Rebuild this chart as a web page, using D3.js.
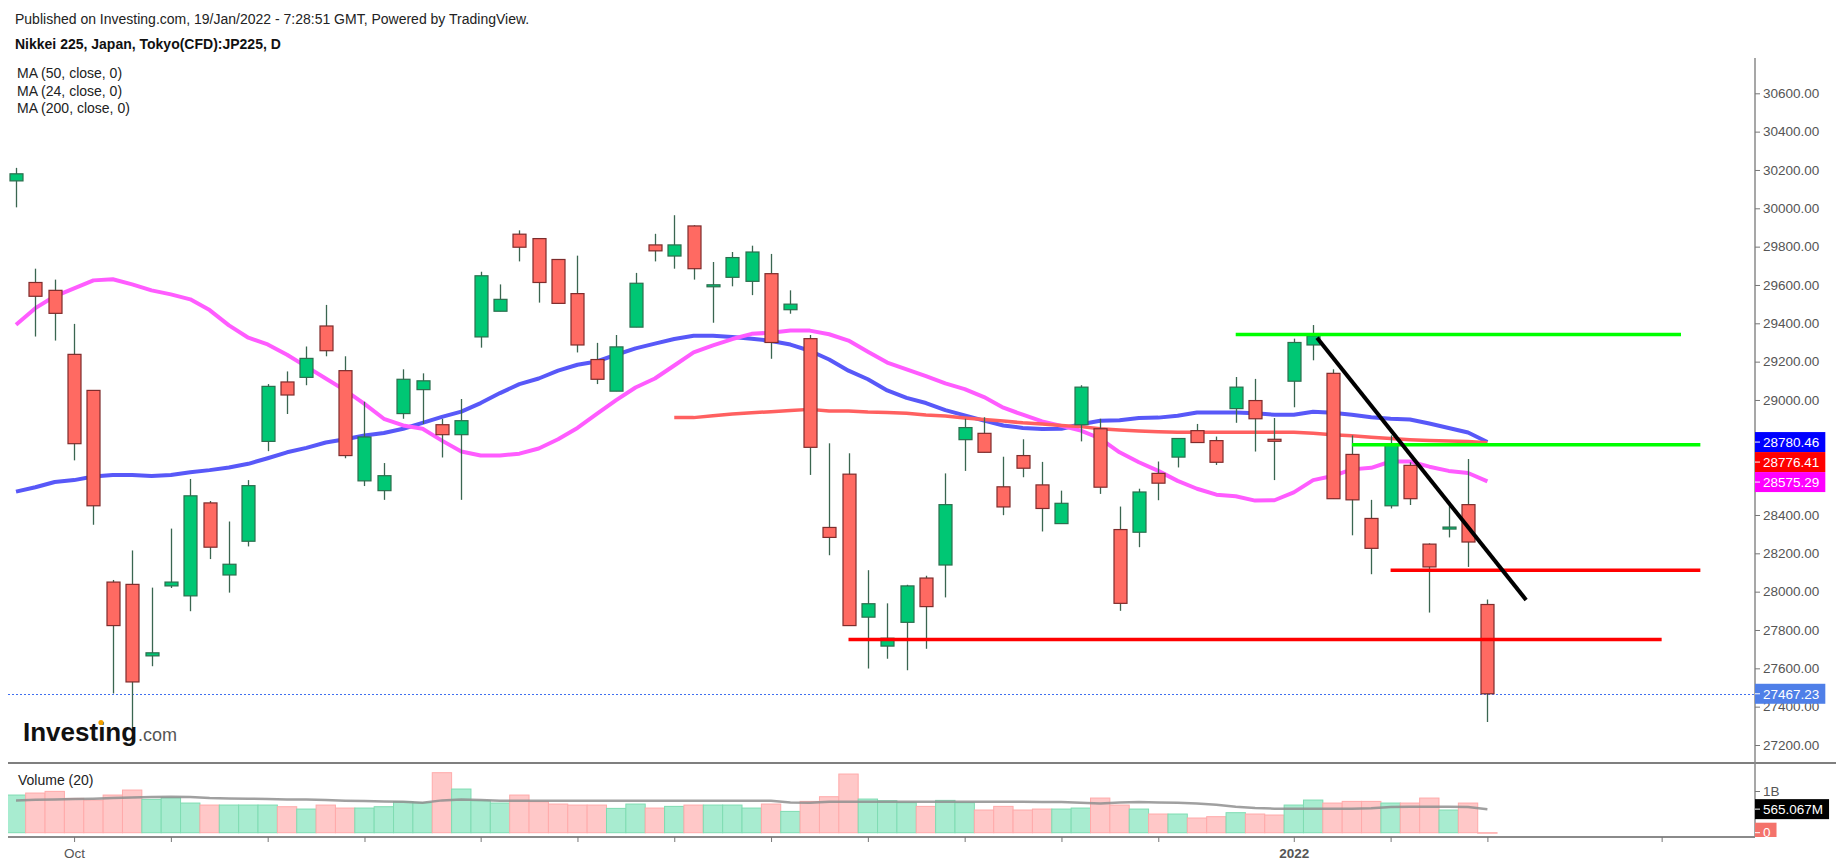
<!DOCTYPE html>
<html>
<head>
<meta charset="utf-8">
<script src="https://cdn.jsdelivr.net/npm/d3@7/dist/d3.min.js"></script>
<style>
  body { margin: 0; background: #fff; overflow: hidden; }
  svg { display: block; font-family: "Liberation Sans", Arial, sans-serif; }
</style>
</head>
<body>
<svg id="chart" width="1836" height="866"></svg>
<script>
// JP225 daily candles (index 0 = first visible bar)
var opens  = [30143,29613,29572,29238,29050,28050,28038,27665,28030,27978,28463,28087,28263,28784,29094,29118,29386,29153,28578,28527,
              28929,29054,28871,28819,29329,29463,29865,29842,29733,29555,29211,29046,29380,29809,29751,29908,29597,29640,29619,29659,
              29471,29320,28335,28613,27867,27716,27840,28071,28139,28793,28826,28547,28710,28557,28355,28871,28850,28324,28310,28617,
              28702,28840,28788,28955,28997,28795,29098,29287,29139,28716,28382,28448,28659,28248,28333,28454,27933];
var highs  = [30211,29685,29628,29397,29052,28061,28215,28021,28329,28588,28473,28366,28582,29083,29149,29279,29496,29228,28991,28671,
              29160,29139,28902,29005,29669,29603,29885,29842,29733,29753,29298,29339,29663,29867,29964,29912,29720,29772,29805,29762,
              29572,29339,28774,28722,28112,27939,28036,28083,28617,28902,28910,28704,28795,28677,28527,29077,28902,28444,28537,28679,
              28799,28875,28809,29120,29110,28906,29320,29391,29160,28815,28479,28815,28675,28252,28454,28692,27959];
var lows   = [30005,29331,29310,28685,28349,27469,27293,27611,28019,27898,28170,27995,28236,28733,28927,29077,29228,28696,28551,28479,
              28902,28875,28700,28479,29273,29463,29723,29508,29504,29248,29083,29046,29380,29723,29685,29628,29403,29593,29547,29215,
              29450,28609,28190,27823,27599,27650,27590,27702,27970,28630,28727,28399,28597,28314,28355,28784,28510,27900,28232,28477,
              28648,28778,28661,28881,28731,28582,28962,29207,28485,28294,28091,28434,28452,27891,28283,28129,27320];
var closes = [30180,29541,29452,28772,28448,27823,27529,27681,28050,28500,28232,28143,28553,29071,29026,29217,29257,28710,28807,28605,
              29108,29100,28819,28892,29648,29525,29797,29613,29504,29287,29108,29277,29609,29778,29809,29685,29601,29743,29772,29300,
              29500,28753,28283,27823,27937,27757,28030,27922,28454,28856,28727,28442,28644,28434,28461,29067,28545,27939,28520,28566,
              28799,28778,28675,29067,28902,28791,29300,29335,28485,28479,28226,28768,28485,28129,28337,28259,27467.23];

// volume in millions and its 20-bar average
var volumes = [903,951,991,823,783,903,1023,799,839,711,663,663,663,663,623,567,663,591,591,623,
               743,719,1439,1047,767,711,903,743,687,663,663,583,687,591,631,663,663,663,591,687,
               511,751,863,1407,807,767,719,631,775,719,544,631,544,567,567,591,831,663,567,448,
               448,352,384,480,448,424,663,783,711,751,751,711,711,831,544,711,0];
var volumeMA = [775,791,799,807,815,831,847,855,863,855,831,823,815,807,799,799,783,767,759,751,
                743,719,775,799,783,767,767,767,767,767,767,767,767,767,767,767,767,767,767,767,
                727,719,743,743,743,743,743,743,743,743,743,743,740,735,735,719,703,727,735,727,
                719,703,671,624,592,576,576,576,576,576,584,616,624,624,624,616,565.067];

// moving averages
var ma50 = [28522,28545,28572,28582,28601,28609,28609,28603,28609,28623,28634,28648,28667,28696,28727,28750,28778,28795,28815,28828,
            28850,28881,28912,28939,28984,29036,29083,29112,29153,29184,29201,29236,29269,29294,29318,29335,29335,29329,29320,29308,
            29289,29257,29211,29153,29108,29050,29011,28984,28947,28920,28892,28867,28854,28848,28850,28873,28892,28894,28906,28908,
            28918,28935,28935,28935,28931,28923,28923,28939,28933,28923,28910,28902,28898,28877,28854,28830,28780.46];
var ma24 = [29393,29479,29541,29582,29624,29630,29603,29572,29551,29525,29469,29389,29325,29290,29236,29174,29112,29050,28980,28902,
            28867,28850,28788,28731,28710,28710,28720,28747,28795,28854,28927,28999,29065,29112,29180,29248,29285,29318,29345,29351,
            29362,29362,29343,29310,29252,29195,29160,29125,29087,29057,29015,28960,28923,28888,28865,28840,28799,28727,28675,28630,
            28578,28537,28506,28498,28475,28477,28518,28582,28603,28638,28646,28679,28679,28652,28630,28619,28575.29];
var ma200From = 34;
var ma200 = [28908,28908,28918,28927,28933,28939,28945,28951,28943,28943,28937,28935,28931,28922,28916,28906,28898,28890,28881,28875,
             28867,28861,28850,28844,28838,28834,28832,28832,28832,28832,28832,28832,28832,28826,28819,28813,28805,28799,28793,28789,
             28786,28784,28776.41];

var priceTicks = [27200,27400,27600,27800,28000,28200,28400,28600,28800,29000,29200,29400,29600,29800,30000,30200,30400,30600];
var xTicks = [3,8,13,18,24,29,34,39,44,49,54,59,66,71,76,85];
var xTickNames = {3: "Oct", 66: "2022"};

// hand drawn levels: value, first bar, last bar
var levelValues = [29341, 28767, 28112, 27750];
var levelStart  = [63, 69, 71, 43];
var levelEnd    = [86, 87, 87, 85];
var trendFrom = [67.2, 29325], trendTo = [78, 27957];
var lastPrice = 27467.23;

var upFill = "#00c774", upLine = "#2c6e4e", downFill = "#ff6a62", downLine = "#7e2c2c", wickColor = "#3a6650";
var levelColors = ["#00ff00", "#00ff00", "#ff0000", "#ff0000"];

var svg = d3.select("#chart");
var left = 8, right = 1755, priceTop = 58, priceBottom = 763, volBottom = 837;

var x = d3.scaleLinear().domain([0, 76]).range([16, 1487.4]);
var y = d3.scaleLinear().domain([27200, 30600]).range([745, 93.3]);
var yv = d3.scaleLinear().domain([0, 1000]).range([832.7, 791]);
var step = x(1) - x(0);
var idx = d3.range(opens.length);
var isUp = i => closes[i] >= opens[i];

svg.append("clipPath").attr("id", "priceClip").append("rect")
    .attr("x", left).attr("y", priceTop).attr("width", right - left).attr("height", priceBottom - priceTop);
svg.append("clipPath").attr("id", "volClip").append("rect")
    .attr("x", left).attr("y", priceBottom).attr("width", right - left).attr("height", volBottom - priceBottom);
svg.append("clipPath").attr("id", "volAxisClip").append("rect")
    .attr("x", right).attr("y", priceBottom).attr("width", 1836 - right).attr("height", volBottom - priceBottom);

// header
svg.append("text").attr("x", 15).attr("y", 23.5).attr("font-size", 14).attr("fill", "#222")
    .text("Published on Investing.com, 19/Jan/2022 - 7:28:51 GMT, Powered by TradingView.");
svg.append("text").attr("x", 15).attr("y", 49).attr("font-size", 14).attr("font-weight", "bold").attr("fill", "#111")
    .text("Nikkei 225, Japan, Tokyo(CFD):JP225, D");
["MA (50, close, 0)", "MA (24, close, 0)", "MA (200, close, 0)"].forEach((t, i) => {
    svg.append("text").attr("x", 17).attr("y", 78 + i * 17.5).attr("font-size", 14).attr("fill", "#222").text(t);
});

var plot = svg.append("g").attr("clip-path", "url(#priceClip)");

// last price dotted line
plot.append("line")
    .attr("x1", left).attr("x2", right).attr("y1", Math.round(y(lastPrice)) + 0.5).attr("y2", Math.round(y(lastPrice)) + 0.5)
    .attr("stroke", "#3f6ff0").attr("stroke-width", 1).attr("stroke-dasharray", "2,2");

// moving averages
var maLine = d3.line().x((d, i) => x(i)).y(d => y(d));
plot.append("path").attr("d", maLine(ma50)).attr("fill", "none")
    .attr("stroke", "#5858f8").attr("stroke-width", 4).attr("stroke-linejoin", "round");
plot.append("path").attr("d", maLine(ma24)).attr("fill", "none")
    .attr("stroke", "#ff5cff").attr("stroke-width", 4).attr("stroke-linejoin", "round");
plot.append("path").attr("d", d3.line().x((d, i) => x(i + ma200From)).y(d => y(d))(ma200)).attr("fill", "none")
    .attr("stroke", "#ff6060").attr("stroke-width", 3.5).attr("stroke-linejoin", "round");

// candles
plot.append("g").selectAll("line").data(idx).join("line")
    .attr("x1", i => Math.round(x(i)) + 0.5).attr("x2", i => Math.round(x(i)) + 0.5)
    .attr("y1", i => y(highs[i])).attr("y2", i => y(lows[i]))
    .attr("stroke", wickColor).attr("stroke-width", 1.3);

var bw = Math.round(step * 0.68);
plot.append("g").selectAll("rect").data(idx).join("rect")
    .attr("x", i => Math.round(x(i)) - bw / 2 + 0.5)
    .attr("width", bw)
    .attr("y", i => y(Math.max(opens[i], closes[i])))
    .attr("height", i => Math.max(2, Math.abs(y(opens[i]) - y(closes[i]))))
    .attr("fill", i => isUp(i) ? upFill : downFill)
    .attr("stroke", i => isUp(i) ? upLine : downLine)
    .attr("stroke-width", 1.2);

// drawn support / resistance levels and trend line
plot.append("g").selectAll("line").data(levelValues).join("line")
    .attr("x1", (d, i) => x(levelStart[i])).attr("x2", (d, i) => x(levelEnd[i]))
    .attr("y1", d => y(d)).attr("y2", d => y(d))
    .attr("stroke", (d, i) => levelColors[i]).attr("stroke-width", 3.5);
plot.append("line")
    .attr("x1", x(trendFrom[0])).attr("y1", y(trendFrom[1]))
    .attr("x2", x(trendTo[0])).attr("y2", y(trendTo[1]))
    .attr("stroke", "#000").attr("stroke-width", 4);

// Investing.com logo
var logo = svg.append("g");
logo.append("text").attr("x", 23).attr("y", 741).attr("font-size", 26).attr("font-weight", "bold").attr("fill", "#111").text("Investing");
logo.append("text").attr("x", 138).attr("y", 741).attr("font-size", 18).attr("fill", "#555").text(".com");
logo.append("circle").attr("cx", 101).attr("cy", 722.5).attr("r", 2.6).attr("fill", "#f5a000");

// volume pane
var vol = svg.append("g").attr("clip-path", "url(#volClip)");
vol.append("g").selectAll("rect").data(idx).join("rect")
    .attr("x", i => x(i) - step / 2)
    .attr("width", step)
    .attr("y", i => yv(volumes[i]))
    .attr("height", i => Math.max(0.5, yv(0) - yv(volumes[i])))
    .attr("fill", i => isUp(i) ? "#a8ecd0" : "#ffc8c8")
    .attr("stroke", i => isUp(i) ? "#7fdcb2" : "#ffaaaa")
    .attr("stroke-width", 1);
vol.append("path").attr("d", d3.line().x((d, i) => x(i)).y(d => yv(d))(volumeMA))
    .attr("fill", "none").attr("stroke", "#8f8f8f").attr("stroke-opacity", 0.85).attr("stroke-width", 2.5);
svg.append("text").attr("x", 18).attr("y", 785).attr("font-size", 14).attr("fill", "#222").text("Volume (20)");

// frame
svg.append("line").attr("x1", left).attr("x2", 1836).attr("y1", priceBottom).attr("y2", priceBottom)
    .attr("stroke", "#555").attr("stroke-width", 1.5);
svg.append("line").attr("x1", left).attr("x2", right).attr("y1", volBottom).attr("y2", volBottom)
    .attr("stroke", "#8a8a8a").attr("stroke-width", 2);
svg.append("line").attr("x1", right).attr("x2", right).attr("y1", priceTop).attr("y2", volBottom)
    .attr("stroke", "#8a8a8a").attr("stroke-width", 1.5);

// moving average tags, pushed apart so they do not overlap
var maTags = [[ma50[ma50.length - 1], "#0000ff"], [ma200[ma200.length - 1], "#ff0000"], [ma24[ma24.length - 1], "#ff00ff"]]
    .map(d => ({ v: d[0], c: d[1], y: y(d[0]) }))
    .sort((a, b) => a.y - b.y);
maTags.forEach((d, i) => { if (i > 0) d.y = Math.max(d.y, maTags[i - 1].y + 20); });
var tagYs = maTags.map(d => d.y).concat([y(lastPrice)]);

// price axis; tick labels hidden under a tag are left out, as on the original
var yAxis = svg.append("g").attr("transform", `translate(${right},0)`)
    .call(d3.axisRight(y).tickValues(priceTicks).tickFormat(d3.format(".2f")).tickSize(5).tickPadding(3));
yAxis.select(".domain").remove();
yAxis.selectAll("line").attr("stroke", "#777");
yAxis.selectAll("text").attr("font-size", 13.5).attr("fill", "#555").attr("font-family", "Liberation Sans, Arial, sans-serif");
yAxis.selectAll(".tick").filter(d => tagYs.some(t => Math.abs(t - y(d)) < 12)).select("text").remove();

// volume axis
var vAxis = svg.append("g").attr("transform", `translate(${right},0)`)
    .call(d3.axisRight(yv).tickValues([1000]).tickFormat(() => "1B").tickSize(5).tickPadding(3));
vAxis.select(".domain").remove();
vAxis.selectAll("line").attr("stroke", "#777");
vAxis.selectAll("text").attr("font-size", 13.5).attr("fill", "#555").attr("font-family", "Liberation Sans, Arial, sans-serif");

function tag(parent, yPos, label, bg, fg) {
    var g = parent.append("g");
    var r = g.append("rect").attr("x", right).attr("y", yPos - 10).attr("height", 20).attr("fill", bg);
    var t = g.append("text").attr("x", right + 8).attr("y", yPos).attr("dy", "0.35em")
        .attr("font-size", 13.5).attr("fill", fg).text(label);
    r.attr("width", t.node().getComputedTextLength() + 14);
    g.append("line").attr("x1", right).attr("x2", right + 5).attr("y1", yPos).attr("y2", yPos).attr("stroke", fg);
}

maTags.forEach(d => tag(svg, d.y, d3.format(".2f")(d.v), d.c, "#fff"));
tag(svg, y(lastPrice), d3.format(".2f")(lastPrice), "#4f7fe8", "#fff");
tag(svg, yv(volumeMA[volumeMA.length - 1]), d3.format(".3f")(volumeMA[volumeMA.length - 1]) + "M", "#000", "#fff");
tag(svg.append("g").attr("clip-path", "url(#volAxisClip)"), yv(volumes[volumes.length - 1]), "0", "#f4736b", "#fff");

// time axis
var xAxis = svg.append("g").attr("transform", `translate(0,${volBottom})`)
    .call(d3.axisBottom(x).tickValues(xTicks).tickFormat(d => xTickNames[d] || "").tickSize(5).tickPadding(6));
xAxis.select(".domain").remove();
xAxis.selectAll("line").attr("stroke", "#777");
xAxis.selectAll("text").attr("font-size", 13.5).attr("fill", "#555").attr("font-family", "Liberation Sans, Arial, sans-serif")
    .attr("font-weight", d => d === 66 ? "bold" : "normal");
</script>
</body>
</html>
